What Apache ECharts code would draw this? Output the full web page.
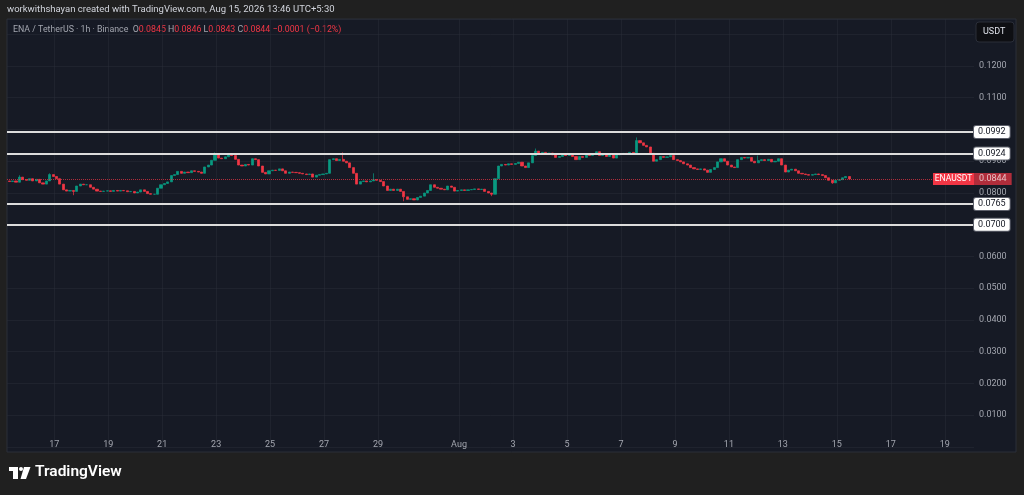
<!DOCTYPE html>
<html>
<head>
<meta charset="utf-8">
<script src="https://cdn.jsdelivr.net/npm/echarts@6/dist/echarts.min.js"></script>
<style>
html, body { margin: 0; padding: 0; background: #202020; }
#chart { width: 1024px; height: 495px; }
</style>
</head>
<body>
<div id="chart"></div>
<script>
// closes of 3h candles (Jul 15 08:00 .. Aug 15 11:00)
var closes = [
    0.0836, 0.0838, 0.0834, 0.0850, 0.0842, 0.0840, 0.0845, 0.0838, 0.0843, 0.0832,
    0.0828, 0.0838, 0.0858, 0.0852, 0.0845, 0.0828, 0.0810, 0.0806, 0.0808, 0.0805,
    0.0822, 0.0828, 0.0826, 0.0826, 0.0818, 0.0812, 0.0806, 0.0805, 0.0806, 0.0807,
    0.0805, 0.0808, 0.0806, 0.0808, 0.0807, 0.0804, 0.0805, 0.0800, 0.0803, 0.0810,
    0.0805, 0.0798, 0.0796, 0.0796, 0.0815, 0.0826, 0.0830, 0.0835, 0.0855, 0.0858,
    0.0868, 0.0862, 0.0866, 0.0864, 0.0870, 0.0868, 0.0866, 0.0862, 0.0882, 0.0888,
    0.0903, 0.0920, 0.0910, 0.0908, 0.0914, 0.0920, 0.0918, 0.0906, 0.0888, 0.0885,
    0.0890, 0.0888, 0.0908, 0.0905, 0.0885, 0.0865, 0.0860, 0.0870, 0.0872, 0.0871,
    0.0876, 0.0870, 0.0862, 0.0866, 0.0865, 0.0864, 0.0862, 0.0860, 0.0858, 0.0860,
    0.0850, 0.0856, 0.0858, 0.0860, 0.0862, 0.0905, 0.0908, 0.0902, 0.0906, 0.0900,
    0.0895, 0.0880, 0.0862, 0.0828, 0.0836, 0.0838, 0.0835, 0.0838, 0.0842, 0.0840,
    0.0836, 0.0822, 0.0808, 0.0812, 0.0808, 0.0812, 0.0805, 0.0788, 0.0780, 0.0782,
    0.0778, 0.0786, 0.0790, 0.0800, 0.0808, 0.0826, 0.0818, 0.0815, 0.0812, 0.0810,
    0.0822, 0.0818, 0.0806, 0.0808, 0.0810, 0.0808, 0.0810, 0.0811, 0.0813, 0.0811,
    0.0812, 0.0805, 0.0800, 0.0796, 0.0845, 0.0885, 0.0890, 0.0888, 0.0892, 0.0890,
    0.0893, 0.0897, 0.0885, 0.0880, 0.0895, 0.0918, 0.0932, 0.0925, 0.0928, 0.0924,
    0.0926, 0.0920, 0.0912, 0.0915, 0.0920, 0.0918, 0.0922, 0.0915, 0.0905, 0.0915,
    0.0912, 0.0920, 0.0918, 0.0922, 0.0930, 0.0918, 0.0922, 0.0915, 0.0922, 0.0910,
    0.0920, 0.0922, 0.0925, 0.0922, 0.0928, 0.0924, 0.0965, 0.0958, 0.0950, 0.0945,
    0.0925, 0.0900, 0.0905, 0.0915, 0.0912, 0.0914, 0.0918, 0.0905, 0.0902, 0.0898,
    0.0892, 0.0888, 0.0880, 0.0876, 0.0874, 0.0876, 0.0872, 0.0865, 0.0874, 0.0880,
    0.0898, 0.0908, 0.0900, 0.0888, 0.0882, 0.0880, 0.0905, 0.0912, 0.0910, 0.0912,
    0.0900, 0.0895, 0.0902, 0.0905, 0.0902, 0.0906, 0.0898, 0.0900, 0.0908, 0.0888,
    0.0866, 0.0872, 0.0875, 0.0870, 0.0862, 0.0860, 0.0858, 0.0856, 0.0858, 0.0860,
    0.0858, 0.0855, 0.0848, 0.0840, 0.0832, 0.0840, 0.0842, 0.0848, 0.0852, 0.0844
];
var firstOpen = 0.0838;

// visible wicks (candle index, extreme price)
var spikeIndex = [3, 12, 19, 61, 99, 108, 117, 143, 156, 186, 222, 244];
var spikePrice = [0.0856, 0.0862, 0.0793, 0.0928, 0.0928, 0.0862, 0.0774, 0.0790, 0.0940, 0.0975, 0.0918, 0.0829];

// drawn horizontal levels
var levels = [0.0992, 0.0924, 0.0765, 0.0700];
var lastPrice = 0.0844;
var lastOHLC = ['0.0845', '0.0846', '0.0843', '0.0844'];
var lastChange = '\u22120.0001 (\u22120.12%)';

// price ticks that are printed on the scale
var priceTicks = ['0.0100', '0.0200', '0.0300', '0.0400', '0.0500', '0.0600', '0.0800', '0.0900', '0.1100', '0.1200'];

// hourly time axis, Jul 15 06:00 .. Aug 19 18:00
var start = Date.UTC(2026, 6, 15, 6);
var hours = [];
for (var i = 0; i < 861; i++) {
    hours.push(String(start + i * 3600000));
}

function dayLabel(i) {
    var d = new Date(Number(hours[i]));
    if (d.getUTCHours() != 0) return false;
    var day = d.getUTCDate();
    return day == 1 || (day % 2 == 1 && day != 31);
}

var candles = [];
for (var k = 0; k < closes.length; k++) {
    var o = k == 0 ? firstOpen : closes[k - 1];
    var c = closes[k];
    var hi = Math.max(o, c), lo = Math.min(o, c);
    var s = spikeIndex.indexOf(k);
    if (s >= 0) {
        if (spikePrice[s] > hi) hi = spikePrice[s];
        if (spikePrice[s] < lo) lo = spikePrice[s];
    }
    candles.push([3 * k + 2, o, c, lo, hi]);
}

var up = '#089981', down = '#f23645';
var txt = '#a3a6af';
var font = 'Roboto, "Noto Sans", sans-serif';

var levelLines = levels.map(function (v) {
    return {
        yAxis: v,
        lineStyle: { color: '#dcdcdc', width: 2, type: 'solid' },
        label: {
            show: true, position: 'end', distance: 0,
            formatter: v.toFixed(4),
            backgroundColor: '#ffffff', color: '#131722',
            borderColor: '#5d606b', borderWidth: 1, borderRadius: 2,
            padding: [2, 4, 1, 4], fontSize: 9, fontFamily: font
        }
    };
});
levelLines.push({
    yAxis: lastPrice,
    lineStyle: { color: '#f23645', width: 1, type: 'dotted', opacity: 0.7 },
    label: {
        show: true, position: 'end', distance: 0,
        formatter: lastPrice.toFixed(4),
        backgroundColor: '#f23645', color: '#ffffff',
        padding: [2, 5, 1, 5], fontSize: 9, fontFamily: font
    }
});

var chart = echarts.init(document.getElementById('chart'));
chart.setOption({
    backgroundColor: '#202020',
    animation: false,
    textStyle: { fontFamily: font },
    graphic: [
        { type: 'rect', z: -100, silent: true,
          shape: { x: 7, y: 19, width: 1009, height: 433 },
          style: { fill: '#161a25', stroke: '#2a2e39', lineWidth: 1 } },
        { type: 'text', left: 7, top: 5,
          style: { text: 'workwithshayan created with TradingView.com, Aug 15, 2026 13:46 UTC+5:30',
                   fill: '#d1d4dc', font: '9.5px ' + font } },
        { type: 'text', left: 13, top: 25,
          style: {
              text: '{g|ENA / TetherUS \u00b7 1h \u00b7 Binance  O}{r|' + lastOHLC[0] + '}{g| H}{r|' + lastOHLC[1] +
                    '}{g| L}{r|' + lastOHLC[2] + '}{g| C}{r|' + lastOHLC[3] + '}{r| ' + lastChange + '}',
              rich: {
                  g: { fill: '#a3a6af', font: '8.8px ' + font },
                  r: { fill: '#f23645', font: '8.8px ' + font }
              }
          } },
        { type: 'rect', shape: { x: 976, y: 22, width: 38, height: 20, r: 3 },
          style: { fill: '#0e0f13', stroke: '#2a2e39', lineWidth: 1 } },
        { type: 'text', left: 983, top: 27,
          style: { text: 'USDT', fill: '#e0e3eb', font: '9px ' + font } },
        // TradingView logo
        { type: 'rect', shape: { x: 9, y: 467, width: 9, height: 4 }, style: { fill: '#ffffff' } },
        { type: 'rect', shape: { x: 13, y: 467, width: 5, height: 12 }, style: { fill: '#ffffff' } },
        { type: 'circle', shape: { cx: 21, cy: 469, r: 2 }, style: { fill: '#ffffff' } },
        { type: 'polygon', shape: { points: [[24, 467], [30.5, 467], [26, 479], [20.5, 479]] }, style: { fill: '#ffffff' } },
        { type: 'text', left: 35, top: 464,
          style: { text: 'TradingView', fill: '#ffffff', font: '600 15.5px ' + font } }
    ],
    grid: { left: 7, right: 50, top: 19, bottom: 48 },
    xAxis: {
        type: 'category',
        data: hours,
        boundaryGap: false,
        axisLine: { show: false },
        axisTick: { show: false },
        axisLabel: {
            interval: function (i) { return dayLabel(i); },
            margin: -7,
            color: txt,
            fontSize: 9,
            formatter: function (v) {
                var d = new Date(Number(v));
                return d.getUTCDate() == 1 ? 'Aug' : String(d.getUTCDate());
            }
        },
        splitLine: {
            show: true,
            interval: function (i) { return dayLabel(i); },
            lineStyle: { color: 'rgba(42,46,57,0.45)', width: 1 }
        }
    },
    yAxis: {
        type: 'value',
        position: 'right',
        min: 0,
        max: 0.1348,
        interval: 0.01,
        axisLine: { show: false },
        axisTick: { show: false },
        axisLabel: {
            margin: 5,
            color: txt,
            fontSize: 9,
            formatter: function (v) {
                var s = v.toFixed(4);
                return priceTicks.indexOf(s) >= 0 ? s : '';
            }
        },
        splitLine: { lineStyle: { color: 'rgba(42,46,57,0.45)', width: 1 } }
    },
    series: [{
        type: 'candlestick',
        data: candles,
        encode: { x: 0, y: [1, 2, 3, 4] },
        barWidth: 2.6,
        itemStyle: {
            color: up, color0: down,
            borderColor: up, borderColor0: down,
            borderWidth: 0.7
        },
        markLine: {
            silent: true,
            symbol: 'none',
            precision: 4,
            animation: false,
            data: levelLines
        },
        markPoint: {
            silent: true,
            data: [{
                coord: [hours.length - 1, lastPrice],
                symbol: 'rect',
                symbolSize: [41, 12],
                symbolOffset: [-20.5, 0],
                itemStyle: { color: '#f23645' },
                label: { show: true, position: 'inside', formatter: 'ENAUSDT', color: '#ffffff', fontSize: 8.5 }
            }]
        }
    }]
});
</script>
</body>
</html>
